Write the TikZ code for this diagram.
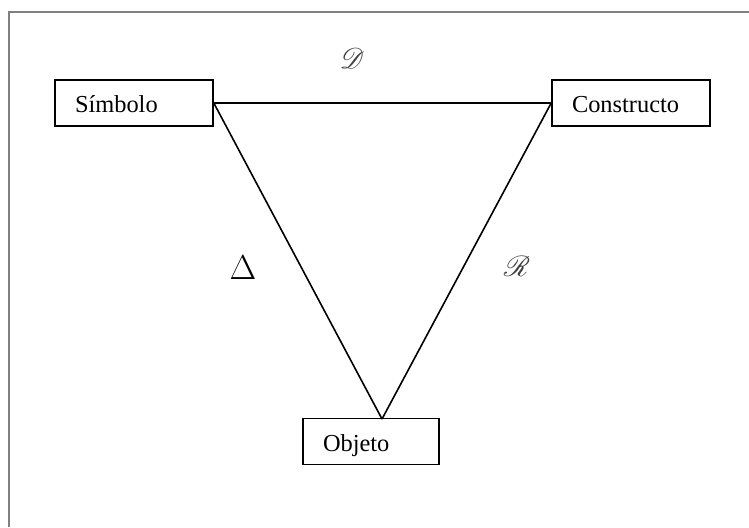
\documentclass[tikz,border=0pt]{standalone}
\usepackage[no-math]{fontspec}
\setmainfont{Liberation Serif}
\usepackage{mathrsfs}
\usepackage{xcolor}
\usepackage{tikz}

\begin{document}
\begin{tikzpicture}[x=0.5pt, y=-0.5pt]

\tikzstyle{box} =
[rectangle,
draw=black,
line width=0.8pt,
minimum height=23pt,
inner xsep=10pt,
text height=11pt,
text depth=1.3pt,
align=left,
font=\fontsize{12.2}{14}\selectfont]

\tikzstyle{scriptlabel} =
[text=black!75,
font=\fontsize{14}{16}\selectfont]

\useasboundingbox (0,0) rectangle (749,527);

% marco gris
\draw[gray, line width=0.8pt] (9,527) -- (9,12) -- (749,12);

\node (simbolo) [box, text width=59pt] at (134,103) {Símbolo};

\node (constructo) [box, text width=59pt] at (631,103) {Constructo};

\node (objeto) [box, text width=48pt] at (371,441.5) {Objeto};

\coordinate (vertice) at (382,419);

\draw[line width=0.8pt] (simbolo.east) -- (constructo.west);
\draw[line width=0.8pt] (simbolo.east) -- (vertice);
\draw[line width=0.8pt] (constructo.west) -- (vertice);

\node (d) [scriptlabel] at (352,58) {$\mathscr{D}$};
\node (delta) [font=\fontsize{17.5}{20}\selectfont] at (243,268) {$\Delta$};
\node (r) [scriptlabel] at (517,266) {$\mathscr{R}$};

\end{tikzpicture}
\end{document}
